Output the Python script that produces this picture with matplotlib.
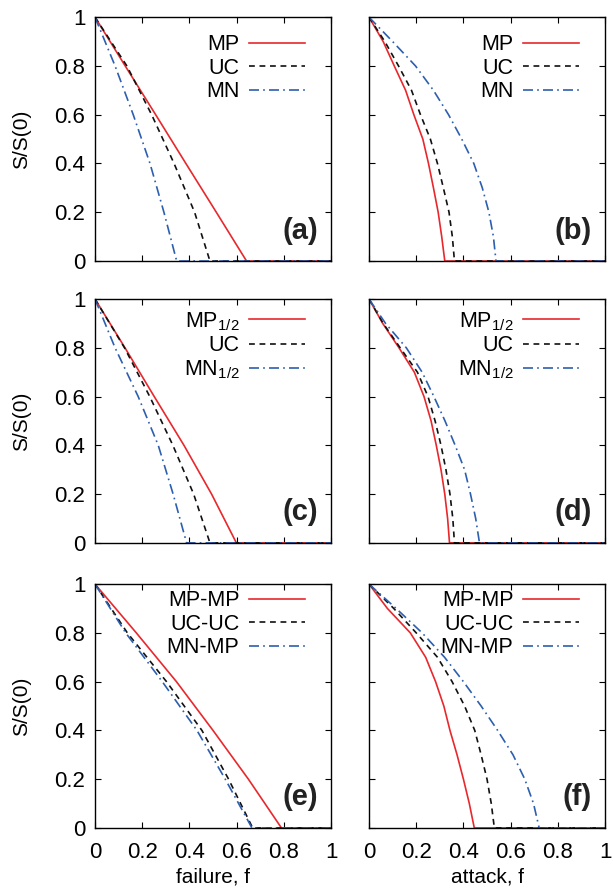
#! /usr/bin/env python3
#
# Giant component size vs. failure / attack fraction, six panels

import matplotlib

matplotlib.use("Agg")
import matplotlib.pyplot as plt

# ---- data (f, S/S(0)) ----
S_LEVELS = [1.0, 0.8, 0.6, 0.4, 0.2, 0.0, 0.0]
S_FINE = [1.0, 0.9, 0.8, 0.7, 0.6, 0.5, 0.4, 0.3, 0.2, 0.1, 0.0, 0.0]

# (a) failure
a_mp = [0.0, 0.128, 0.257, 0.385, 0.514, 0.642, 1.0]
a_uc = [0.0, 0.135, 0.24, 0.335, 0.422, 0.487, 1.0]
a_mn = [0.0, 0.085, 0.162, 0.233, 0.292, 0.346, 1.0]

# (b) attack
b_mp = [0.0, 0.06, 0.107, 0.155, 0.19, 0.228, 0.252, 0.273, 0.293, 0.308, 0.321, 1.0]
b_uc = [0.0, 0.067, 0.125, 0.18, 0.218, 0.26, 0.29, 0.315, 0.339, 0.353, 0.362, 1.0]
b_mn = [0.0, 0.1, 0.197, 0.273, 0.337, 0.393, 0.444, 0.48, 0.508, 0.527, 0.538, 1.0]

# (c) failure, half-correlated
c_mp = [0.0, 0.127, 0.251, 0.377, 0.494, 0.599, 1.0]
c_uc = [0.0, 0.125, 0.232, 0.33, 0.418, 0.487, 1.0]
c_mn = [0.0, 0.085, 0.183, 0.268, 0.331, 0.388, 1.0]

# (d) attack, half-correlated
d_mp = [0.0, 0.058, 0.127, 0.192, 0.233, 0.263, 0.285, 0.305, 0.321, 0.333, 0.341, 1.0]
d_uc = [0.0, 0.06, 0.132, 0.205, 0.25, 0.28, 0.305, 0.326, 0.343, 0.355, 0.362, 1.0]
d_mn = [0.0, 0.07, 0.158, 0.225, 0.275, 0.322, 0.365, 0.405, 0.43, 0.452, 0.468, 1.0]

# (e) failure, interdependent pairs
e_mp = [0.0, 0.175, 0.345, 0.5, 0.65, 0.79, 1.0]
e_uc = [0.0, 0.137, 0.303, 0.453, 0.566, 0.668, 1.0]
e_mn = [0.0, 0.13, 0.285, 0.432, 0.552, 0.665, 1.0]

# (f) attack, interdependent pairs
f_mp = [0.0, 0.078, 0.175, 0.24, 0.282, 0.317, 0.343, 0.373, 0.4, 0.425, 0.446, 1.0]
f_uc = [0.0, 0.105, 0.2, 0.29, 0.352, 0.405, 0.448, 0.475, 0.5, 0.518, 0.531, 1.0]
f_mn = [0.0, 0.115, 0.225, 0.32, 0.4, 0.475, 0.545, 0.61, 0.66, 0.697, 0.721, 1.0]

LABELS_AB = ["MP", "UC", "MN"]
LABELS_CD = ["MP$_{1/2}$", "UC", "MN$_{1/2}$"]
LABELS_EF = ["MP-MP", "UC-UC", "MN-MP"]
PANEL_TAGS = ["(a)", "(b)", "(c)", "(d)", "(e)", "(f)"]
TICKS = [0, 0.2, 0.4, 0.6, 0.8, 1]
TICK_LABELS = ["0", "0.2", "0.4", "0.6", "0.8", "1"]

RED = "#e8282c"
BLACK = "#111111"
BLUE = "#2d5fae"

plt.rcParams["font.family"] = ["Liberation Sans", "DejaVu Sans"]
plt.rcParams["mathtext.default"] = "regular"

panels = [
    (a_mp, a_uc, a_mn, S_LEVELS, LABELS_AB),
    (b_mp, b_uc, b_mn, S_FINE, LABELS_AB),
    (c_mp, c_uc, c_mn, S_LEVELS, LABELS_CD),
    (d_mp, d_uc, d_mn, S_FINE, LABELS_CD),
    (e_mp, e_uc, e_mn, S_LEVELS, LABELS_EF),
    (f_mp, f_uc, f_mn, S_FINE, LABELS_EF),
]

fig = plt.figure(figsize=(6.13, 8.90), dpi=100)
lefts = [0.155, 0.602]
bottoms = [0.7067, 0.390, 0.0697]
w, h = 0.385, 0.274
legend_tops = [0.93, 0.955, 0.975]

for i, (mp, uc, mn, s, labels) in enumerate(panels):
    row, col = divmod(i, 2)
    ax = fig.add_axes([lefts[col], bottoms[row], w, h])
    lw = 1.2
    ax.plot(mp, s, color=RED, lw=lw, label=labels[0])
    ax.plot(uc, s, color=BLACK, lw=lw, dashes=(3.5, 2.8), label=labels[1])
    ax.plot(mn, s, color=BLUE, lw=lw, dashes=(6, 2.5, 1, 2.5), label=labels[2])

    ax.set_xlim(0, 1)
    ax.set_ylim(0, 1)
    ax.set_xticks(TICKS)
    ax.set_yticks(TICKS)
    ax.tick_params(direction="in", top=True, right=True, length=4, width=0.8,
                   labelsize=16)
    ax.tick_params(axis="y", pad=7)
    ax.tick_params(axis="x", pad=10)
    if col == 0:
        ax.set_yticklabels(TICK_LABELS)
        ax.set_ylabel("S/S(0)", fontsize=15)
        ax.yaxis.set_label_coords(-0.27, 0.5)
    else:
        ax.set_yticklabels([])
    if row == 2:
        ax.set_xticklabels(TICK_LABELS)
        ax.set_xlabel("failure, f" if col == 0 else "attack, f", fontsize=15, labelpad=3)
    else:
        ax.set_xticklabels([])
    for sp in ax.spines.values():
        sp.set_linewidth(1.0)

    ax.legend(loc="upper right", bbox_to_anchor=(0.89, legend_tops[row]), frameon=False,
              markerfirst=False, fontsize=15.5, handlelength=2.6,
              handletextpad=0.45, labelspacing=0.12, borderpad=0, borderaxespad=0)
    ax.text(0.945, 0.125, PANEL_TAGS[i], transform=ax.transAxes, ha="right",
            va="center", fontsize=21, fontweight="bold", color="#222222")

fig.savefig("out.png", dpi=100)
